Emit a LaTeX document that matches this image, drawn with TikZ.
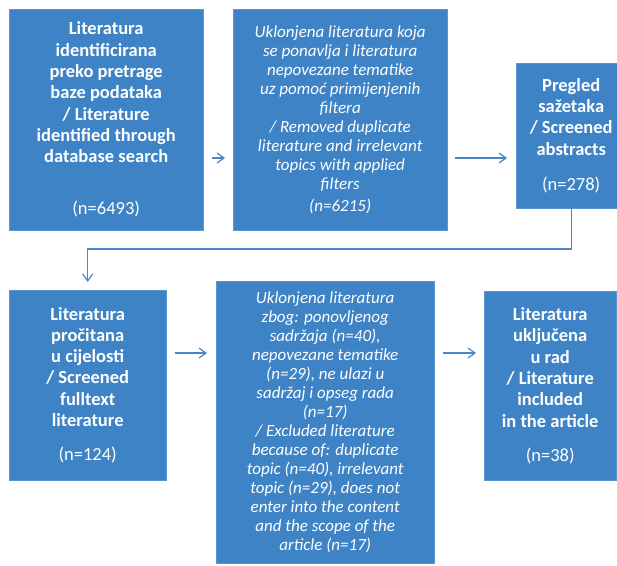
\documentclass[tikz,border=0pt]{standalone}
\usepackage{fontspec}
\setmainfont{Carlito}
\usetikzlibrary{arrows.meta,positioning}

\definecolor{boxblue}{RGB}{62,131,197}
\definecolor{flowblue}{RGB}{74,134,198}

\tikzstyle{stage} = [rectangle, fill=boxblue, draw=boxblue!85!white, text=white, align=center, inner sep=0pt, anchor=north west]
\tikzstyle{boldstage} = [stage, font=\fontsize{18.5}{21.3}\selectfont\bfseries]
\tikzstyle{itstage} = [stage, font=\fontsize{17}{19}\selectfont\itshape]
\tikzstyle{flow} = [draw=flowblue, line width=1.2pt, -{Straight Barb[length=7pt,width=10pt]}]

\begin{document}
\begin{tikzpicture}[x=1pt,y=-1pt]
\useasboundingbox (0,0) rectangle (617,565);
\def\gap{9pt}

%   upper row
	\node[boldstage, minimum width=194, minimum height=221] (ident) at (9,9)
	{Literatura\\identificirana\\preko pretrage\\baze podataka\\/ Literature\\identified through\\database search\\[31pt]\mdseries (n=6493)};
	\node[itstage, minimum width=214, minimum height=221] (removed) at (233,9)
	{Uklonjena literatura koja\\se ponavlja i literatura\\nepovezane tematike\\uz pomoć primijenjenih\\filtera\\/ Removed duplicate\\literature and irrelevant\\topics with applied\\filters\\[3pt](n=6215)};
	\node[boldstage, minimum width=110, minimum height=145] (abstracts) at (516,63)
	{Pregled\\sažetaka\\/ Screened\\abstracts\\[14pt]\mdseries (n=278)};

%   lower row
	\node[boldstage, minimum width=157, minimum height=190] (fulltext) at (9,290)
	{Literatura\\pročitana\\u cijelosti\\/ Screened\\fulltext\\literature\\[13pt]\mdseries (n=124)};
	\node[itstage, minimum width=218, minimum height=282] (excluded) at (216,281)
	{Uklonjena literatura\\zbog: ponovljenog\\sadržaja (n=40),\\nepovezane tematike\\(n=29), ne ulazi u\\sadržaj i opseg rada\\(n=17)\\/ Excluded literature\\because of: duplicate\\topic (n=40), irrelevant\\topic (n=29), does not\\enter into the content\\and the scope of the\\article (n=17)};
	\node[boldstage, minimum width=132, minimum height=189] (included) at (484,291)
	{Literatura\\uključena\\u rad\\/ Literature\\included\\in the article\\[13pt]\mdseries (n=38)};

%   connectors
	\coordinate (row1) at (0,158);
	\coordinate (row2) at (0,353);
	\coordinate (turn) at (0,249);
	\draw[flow, shorten <=\gap, shorten >=8pt] (ident.east |- row1) -- (removed.west |- row1);
	\draw[flow, shorten <=8pt, shorten >=\gap] (removed.east |- row1) -- (abstracts.west |- row1);
	\draw[flow, shorten >=8pt] (abstracts.south) -- (abstracts.south |- turn) -- (fulltext.north |- turn) -- (fulltext.north);
	\draw[flow, shorten <=\gap, shorten >=\gap] (fulltext.east |- row2) -- (excluded.west |- row2);
	\draw[flow, shorten <=\gap, shorten >=8pt] (excluded.east |- row2) -- (included.west |- row2);

\end{tikzpicture}
\end{document}
